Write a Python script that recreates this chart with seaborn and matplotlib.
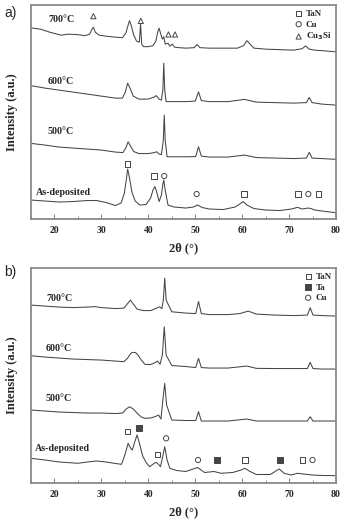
import matplotlib
matplotlib.use("Agg")
import matplotlib.pyplot as plt
from matplotlib.ticker import MultipleLocator
import seaborn as sns

# ---- panel a: TaN/Cu (intensity in a.u.) ----
a700_x = [15, 17, 19, 21.4, 23, 25, 26.5, 27.5, 28.0, 28.3, 28.7, 29.5, 31, 33, 34.5, 35.2, 35.7, 36.0, 36.4, 36.9,
          37.5, 38.1, 38.35, 38.6, 39.0, 40.0, 41.0, 41.6, 42.0, 42.3, 42.6, 43.0, 43.3, 43.6, 44.2, 44.6, 45.1, 45.6,
          46.5, 48, 49.8, 50.4, 51.0, 53, 56, 59, 60.3, 61.0, 61.5, 62.5, 65, 68, 71, 72.8, 73.5, 74.3, 75.5, 77, 80]
a700_y = [191.3, 190, 187, 184, 185, 184.5, 183.5, 185, 190, 192, 187, 184, 183, 182, 181.5, 186, 194, 198.5, 193, 184,
          178, 177, 195.5, 175, 172.5, 172.5, 173.5, 178, 187, 191, 186, 180, 182.5, 175, 176, 173, 175, 172,
          171.5, 171, 171.5, 174.7, 171.5, 171, 171, 171, 173.5, 178.5, 176, 171, 170, 169.5, 169, 170.5, 173.2, 170,
          169, 168.5, 167.3]

a600_x = [15, 18, 21, 24, 27, 30, 33, 34.5, 35.1, 35.6, 36.1, 36.8, 38, 40, 41.2, 41.7, 42.3, 42.8, 43.1, 43.3,
          43.5, 43.8, 45, 48, 50.0, 50.7, 51.3, 53, 57, 60.5, 63, 67, 71, 73.7, 74.3, 74.9, 77, 80]
a600_y = [133.5, 131, 129, 127, 125, 123, 121, 121, 127, 136, 131, 123, 120, 120, 122, 123.5, 120, 119, 129, 156,
          129, 117.5, 117.5, 117.5, 118, 127.3, 118.5, 117.5, 117.5, 119.7, 117, 116.5, 116, 116.5, 121.7, 116.5,
          115, 114]

a500_x = [15, 18, 21, 24, 27, 30, 33, 34.6, 35.2, 35.7, 36.2, 36.9, 38, 40, 41.3, 41.8, 42.3, 42.8, 43.2, 43.4,
          43.6, 44, 46, 48, 50.1, 50.7, 51.3, 53, 57, 60.5, 63, 67, 71, 73.7, 74.3, 74.9, 77, 80]
a500_y = [75.7, 74, 72, 71, 70, 69, 67, 66.5, 71, 77.3, 73, 67.5, 65.5, 65.5, 66.5, 67.3, 65, 64.5, 79, 104,
          79, 62.3, 62.3, 62.3, 62.5, 72.3, 63, 62, 62, 64, 61.5, 61, 60.5, 61, 66.7, 61, 60.5, 59.7]

adep_x = [15, 18, 21, 24, 27, 29, 31, 33, 34.2, 34.9, 35.3, 35.6, 36.0, 36.5, 37.2, 38.2, 39.5, 40.5, 41.0, 41.4,
          41.8, 42.3, 42.8, 43.1, 43.3, 43.6, 44.2, 45.5, 48, 49.6, 50.5, 51.5, 53, 56, 58.5, 59.5, 60.2, 61, 62.5,
          65, 68, 70.5, 71.8, 72.8, 74, 74.6, 75.5, 77, 80]
adep_y = [19, 18, 17, 17.5, 18.5, 18.5, 16.5, 13.5, 16, 26, 39, 50, 41, 27, 18, 14, 14.5, 21, 29, 32.5,
          27, 17.5, 24, 35, 39, 29, 14, 12, 11, 12, 14, 11.5, 10, 9.5, 12, 15, 17.5, 14, 10.5,
          9, 8.5, 10, 11.7, 10, 11, 10.5, 9, 8, 6.3]

a_tan = ([35.5, 41.2, 60.4, 71.9, 76.3], [55, 43, 25, 25, 25])
a_cu = ([43.4, 50.3, 74.1], [43, 25, 25])
a_cu3si = ([28.3, 38.4, 44.3, 45.7], [203, 198.3, 184.7, 184.7])

# ---- panel b: TaN/Ta/Cu ----
b700_x = [15, 18, 21, 24, 27, 28.6, 30, 33, 34.8, 35.5, 36.2, 36.8, 37.6, 39, 40.5, 41.8, 42.4, 42.9, 43.2, 43.5,
          43.8, 45, 48, 50.1, 50.7, 51.3, 53, 57, 59.5, 61.3, 63, 67, 71, 73.9, 74.5, 75.1, 77, 80]
b700_y = [178, 177, 176, 175.5, 176, 176.5, 175.5, 174.5, 175, 179, 183, 179, 174, 172.5, 172.5, 175, 176.3, 174.5,
          183, 205, 183, 171.3, 170, 169.5, 181.5, 169.5, 168.5, 168.5, 169.5, 172, 169, 168, 167.5, 168, 175.3,
          168, 167.5, 167]

b600_x = [15, 18, 21, 24, 27, 30, 33, 34.8, 35.6, 36.3, 36.8, 37.3, 37.8, 38.5, 39.3, 40.5, 41.5, 42.0, 42.5, 43.0,
          43.4, 43.8, 45, 48, 50.1, 50.7, 51.3, 53, 57, 61, 63, 67, 71, 73.9, 74.5, 75.1, 77, 80]
b600_y = [127.3, 126, 125, 124, 123.5, 123, 122, 121.3, 125, 130, 130.7, 130.5, 128, 123, 118.7, 118.5, 120.5, 122,
          118.7, 128, 156.3, 128, 117.5, 116.5, 115.5, 124.7, 115.5, 115, 115, 117, 114.7, 114.5, 114.5, 114.5,
          120.7, 114.5, 114, 114]

b500_x = [15, 18, 21, 24, 27, 30, 33, 34.5, 35.3, 36.0, 36.8, 37.6, 38.5, 39.3, 40.5, 41.5, 42.2, 42.7, 43.1, 43.5,
          43.9, 45, 48, 50.1, 50.7, 51.3, 53, 57, 61, 63, 67, 71, 73.9, 74.5, 75.1, 77, 80]
b500_y = [73, 72, 71, 70.5, 70, 70, 69.5, 70, 74, 76.3, 74, 70, 66, 64.7, 65, 66.5, 68, 64, 83, 99.7,
          78, 63, 62.5, 62.5, 71.3, 62, 62, 62, 64, 62, 62, 62, 62, 66.3, 62, 62, 62]

bdep_x = [15, 18, 21, 25, 27, 29, 31, 33, 34.3, 35.0, 35.7, 36.2, 36.6, 37.1, 37.6, 38.1, 38.8, 39.6, 40.3, 41.2,
          41.7, 42.2, 42.6, 43.0, 43.5, 44.0, 44.6, 46, 48, 50.5, 52, 54, 55.5, 58, 59.8, 60.6, 61.5, 63, 66, 67.9,
          69, 70.5, 71.8, 73, 75, 77, 80]
bdep_y = [24.7, 23, 21, 19.7, 21, 22, 21, 19.5, 18.7, 28, 39.7, 35, 33, 41, 48, 40, 27, 20, 16.3, 19.5,
          20.7, 18.5, 16.3, 25, 36.3, 23, 14.7, 12.5, 11.5, 15.5, 10.5, 11.5, 9.7, 10.5, 13, 14.7, 12, 8.5, 8.5, 14,
          9.5, 8, 9.7, 9, 8, 7.5, 7.3]

b_tan = ([35.5, 41.9, 60.6, 72.8], [51.3, 28.7, 23, 23])
b_ta = ([38.0, 54.6, 68.1], [55.3, 23, 23])
b_cu = ([43.8, 50.6, 75.0], [44.7, 23, 23])

temps = ["700°C", "600°C", "500°C", "As-deposited"]
a_label_y = [200, 138, 88, 27]
b_label_y = [185, 135, 85, 35]

sns.set_theme(style="white")
plt.rcParams["font.family"] = ["Liberation Serif", "DejaVu Serif"]
plt.rcParams["font.weight"] = "bold"
plt.rcParams["mathtext.default"] = "bf"

LINE = "#454545"
FRAME = "#8a8a8a"

fig = plt.figure(figsize=(3.47, 5.19), dpi=100)
ax_a = fig.add_axes([0.0893, 0.578, 0.879, 0.412])
ax_b = fig.add_axes([0.0893, 0.0694, 0.879, 0.414])


def style_axis(ax, top):
    ax.set_xlim(15, 80)
    ax.set_ylim(0, top)
    ax.xaxis.set_major_locator(MultipleLocator(10))
    ax.xaxis.set_minor_locator(MultipleLocator(5))
    ax.tick_params(axis="x", which="major", direction="in", length=3.5, width=0.8, color=FRAME,
                   labelsize=7, pad=5, bottom=True, top=False)
    ax.tick_params(axis="x", which="minor", direction="in", length=2, width=0.7, color=FRAME,
                   bottom=True, top=False)
    ax.set_yticks([])
    for sp in ax.spines.values():
        sp.set_color(FRAME)
        sp.set_linewidth(1.3)
    ax.set_xlabel("2θ (°)", fontsize=9, fontweight="bold", labelpad=5)
    ax.set_ylabel("Intensity (a.u.)", fontsize=9, fontweight="bold", labelpad=9)


def open_marks(ax, pts, marker, label, filled=False):
    sns.scatterplot(x=pts[0], y=pts[1], ax=ax, marker=marker, s=14,
                    facecolor=LINE if filled else "none", edgecolor=LINE, linewidth=0.7,
                    label=label, zorder=3)


# panel a
for xs, ys in [(a700_x, a700_y), (a600_x, a600_y), (a500_x, a500_y), (adep_x, adep_y)]:
    sns.lineplot(x=xs, y=ys, ax=ax_a, color=LINE, linewidth=0.75)
open_marks(ax_a, a_tan, "s", "TaN")
open_marks(ax_a, a_cu, "o", "Cu")
open_marks(ax_a, a_cu3si, "^", "Cu$_3$Si")
for name, yy in zip(temps, a_label_y):
    ax_a.text(18.6 if name != "As-deposited" else 16.1, yy, name, fontsize=7.2,
              fontweight="bold", va="center", ha="left")
style_axis(ax_a, 214)

# panel b
for xs, ys in [(b700_x, b700_y), (b600_x, b600_y), (b500_x, b500_y), (bdep_x, bdep_y)]:
    sns.lineplot(x=xs, y=ys, ax=ax_b, color=LINE, linewidth=0.75)
open_marks(ax_b, b_tan, "s", "TaN")
open_marks(ax_b, b_ta, "s", "Ta", filled=True)
open_marks(ax_b, b_cu, "o", "Cu")
for name, yy in zip(temps, b_label_y):
    ax_b.text(18.2 if name != "As-deposited" else 15.9, yy, name, fontsize=7.2,
              fontweight="bold", va="center", ha="left")
style_axis(ax_b, 215)

for ax in (ax_a, ax_b):
    ax.legend(loc="upper right", frameon=False, handlelength=0.8,
              handletextpad=0.4, labelspacing=0.25, borderaxespad=0.3, borderpad=0.2,
              prop={"weight": "bold", "size": 6.5})

fig.text(0.012, 0.975, "a)", fontsize=10, family="Liberation Sans", fontweight="normal", va="center")
fig.text(0.012, 0.476, "b)", fontsize=10, family="Liberation Sans", fontweight="normal", va="center")

fig.savefig("out.png", dpi=100)
